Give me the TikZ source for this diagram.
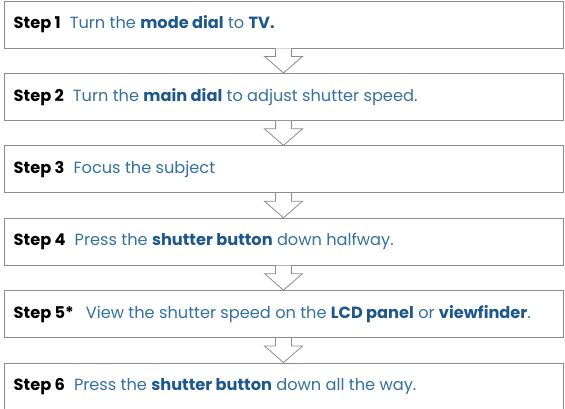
\documentclass[tikz,border=0pt]{standalone}
\usepackage{fontspec}
\setmainfont{Poppins}
\usepackage{xcolor}
\usetikzlibrary{positioning,calc}

\definecolor{stepblue}{RGB}{52,112,160}
\definecolor{keyblue}{RGB}{30,88,138}
\definecolor{boxgray}{RGB}{140,140,140}
\newcommand{\kw}[1]{{\bfseries\color{keyblue}#1}}
\newcommand{\stepno}[1]{{\bfseries\color{black}Step #1}\hspace{9pt}}

\tikzset{
  stepbox/.style={draw=boxgray,line width=0.9pt,fill=white,minimum width=559pt,
    minimum height=47pt,inner sep=0pt},
  steptext/.style={anchor=west,font=\fontsize{16.2}{18}\selectfont,text=stepblue,inner sep=0pt},
  downarrow/.style={draw=boxgray,line width=0.8pt,fill=white,line join=miter}
}

\begin{document}
\begin{tikzpicture}[x=1pt,y=1pt,node distance=24.5pt]
  \useasboundingbox (-283.5,24.5) rectangle (281.5,-384.5);
  \node[stepbox] (s1) {};
  \node[stepbox,below=of s1] (s2) {};
  \node[stepbox,below=of s2] (s3) {};
  \node[stepbox,below=of s3] (s4) {};
  \node[stepbox,below=of s4] (s5) {};
  \node[stepbox,below=of s5] (s6) {};
  % arrows between the boxes
  \foreach \a/\b in {s1/s2,s2/s3,s3/s4,s4/s5,s5/s6}
    \draw[downarrow] ($(\a.south)+(-8,0)$) -- ($(\a.south)+(-8,-8)$) -- ($(\a.south)+(-19,-8)$)
      -- (\b.north) -- ($(\a.south)+(19,-8)$) -- ($(\a.south)+(8,-8)$) -- ($(\a.south)+(8,0)$);
  \node[steptext] (t1) at ($(s1.west)+(10,0)$) {\stepno{1}Turn the \kw{mode dial} to \kw{TV.}};
  \node[steptext] (t2) at ($(s2.west)+(10,0)$) {\stepno{2}Turn the \kw{main dial} to adjust shutter speed.};
  \node[steptext] (t3) at ($(s3.west)+(10,0)$) {\stepno{3}Focus the subject};
  \node[steptext] (t4) at ($(s4.west)+(10,0)$) {\stepno{4}Press the \kw{shutter button} down halfway.};
  \node[steptext] (t5) at ($(s5.west)+(10,0)$) {\stepno{5*}\hspace{3pt}View the shutter speed on the \kw{LCD panel} or \kw{viewfinder}.};
  \node[steptext] (t6) at ($(s6.west)+(10,0)$) {\stepno{6}Press the \kw{shutter button} down all the way.};
\end{tikzpicture}
\end{document}
